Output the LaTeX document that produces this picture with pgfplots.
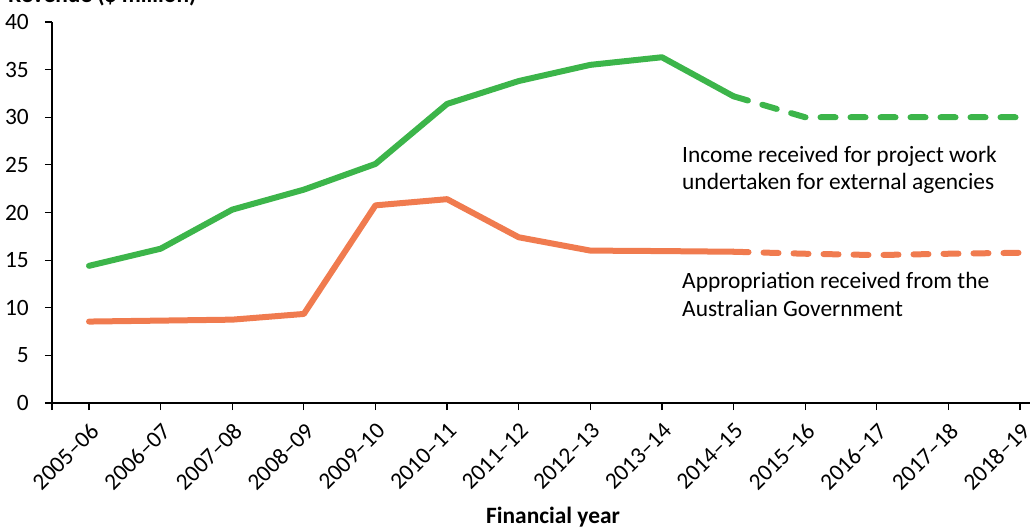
\documentclass[border=0pt]{standalone}
\usepackage{fontspec}
\setmainfont{Carlito}
\usepackage{pgfplots}
\pgfplotsset{compat=1.18}
\definecolor{cgreen}{HTML}{3CB54A}
\definecolor{corange}{HTML}{F07B4F}
\newcommand{\fs}{\fontsize{23.4bp}{28bp}\selectfont}
\begin{document}
\begin{tikzpicture}
\begin{axis}[
  at={(0,0)}, anchor=south west,
  scale only axis, width=978bp, height=381bp,
  xmin=-0.517, xmax=13.14, ymin=0, ymax=40,
  axis lines=left, axis line style={-, line width=1.3bp, black},
  xtick={0,...,13},
  xticklabels={2005--06,2006--07,2007--08,2008--09,2009--10,2010--11,2011--12,2012--13,2013--14,2014--15,2015--16,2016--17,2017--18,2018--19},
  extra x ticks={-0.517}, extra x tick labels={},
  ytick={0,5,...,40},
  tick align=outside, major tick length=7bp,
  tick style={black, line width=1.2bp},
  tick label style={font=\fs},
  /pgf/number format/assume math mode=true,
  xticklabel style={rotate=45, anchor=north east, inner sep=2bp, xshift=-6bp, yshift=-6bp},
  yticklabel style={inner sep=2bp, xshift=-14bp},
  clip=false,
]
\addplot[cgreen, line width=6bp, line cap=round, line join=round] coordinates {
(0,14.4) (1,16.2) (2,20.3) (3,22.4) (4,25.1) (5,31.4) (6,33.8) (7,35.5) (8,36.3) (9,32.2)};
\addplot[cgreen, line width=6bp, line cap=round, line join=round, dash pattern=on 15bp off 15bp] coordinates {
(9,32.2) (10,30.0) (11,30.0) (12,30.0) (13,30.0)};
\addplot[corange, line width=6bp, line cap=round, line join=round] coordinates {
(0,8.55) (1,8.65) (2,8.75) (3,9.35) (4,20.75) (5,21.4) (6,17.4) (7,16.0) (8,15.95) (9,15.88)};
\addplot[corange, line width=6bp, line cap=round, line join=round, dash pattern=on 15bp off 15bp] coordinates {
(9,15.88) (10,15.67) (11,15.53) (12,15.67) (13,15.77)};
\end{axis}
\node[anchor=base west, font=\fs\bfseries, inner sep=0pt] at (-44bp,400.5bp) {Revenue (\$ million)};
\node[anchor=base west, font=\fs, inner sep=0pt] at (630bp,240bp) {Income received for project work};
\node[anchor=base west, font=\fs, inner sep=0pt] at (630bp,213bp) {undertaken for external agencies};
\node[anchor=base west, font=\fs, inner sep=0pt] at (630bp,114bp) {Appropriation received from the};
\node[anchor=base west, font=\fs, inner sep=0pt] at (630bp,86bp) {Australian Government};
\node[anchor=base, font=\fs\bfseries, inner sep=0pt] at (553bp-52bp,-120bp) {Financial year};
\pgfresetboundingbox
\path[use as bounding box] (-52bp,-126bp) rectangle (978bp,403bp);
\end{tikzpicture}
\end{document}
